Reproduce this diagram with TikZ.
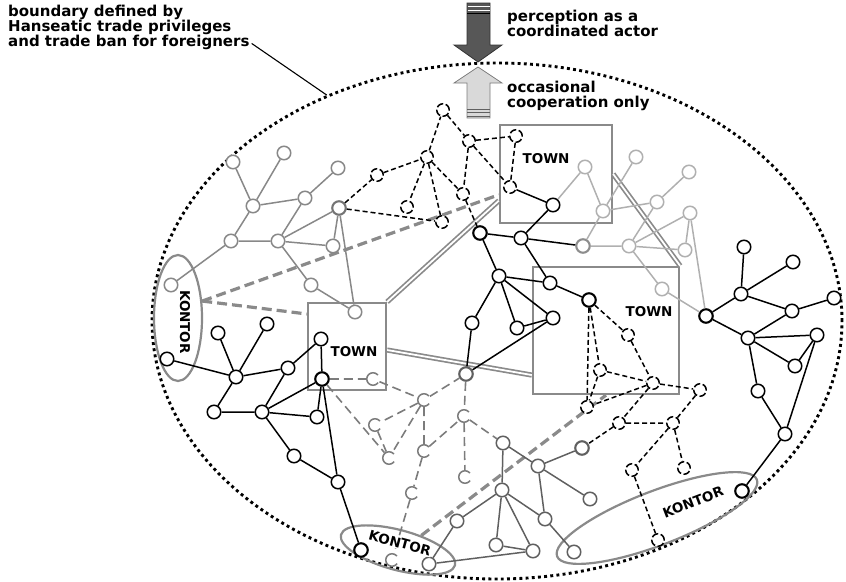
\documentclass[tikz,border=0pt]{standalone}
\usepackage{fontspec}
\newfontfamily\verd{DejaVu Sans}
\usetikzlibrary{positioning,shapes.geometric}
\definecolor{netgray}{HTML}{888888}
\definecolor{netlight}{HTML}{B0B0B0}
\definecolor{netdark}{HTML}{606060}
\definecolor{dashgray}{HTML}{7C7C7C}
\definecolor{boxgray}{HTML}{8A8A8A}
\definecolor{arrdark}{HTML}{575757}
\definecolor{arrlight}{HTML}{D9D9D9}
\tikzset{
  knot/.style={circle, draw=black, fill=white, line width=1.5pt, minimum size=13.5pt, inner sep=0pt},
  hub/.style={knot, line width=2.1pt},
  grayknot/.style={knot, draw=netgray},
  grayhub/.style={hub, draw=netgray!85!black},
  lightknot/.style={knot, draw=netlight},
  lighthub/.style={hub, draw=netlight!80!black},
  darkknot/.style={knot, draw=netdark},
  darkhub/.style={hub, draw=netdark},
  dashknot/.style={knot, minimum size=12.5pt, dash pattern=on 7pt off 2.6pt},
  cknot/.style={knot, draw=dashgray, minimum size=12.5pt, dash pattern=on 31pt off 8.3pt, dash phase=35.1pt},
  blk/.style={draw=black, line width=1.5pt},
  gry/.style={draw=netgray, line width=1.5pt},
  lgt/.style={draw=netlight, line width=1.5pt},
  drk/.style={draw=netdark, line width=1.5pt},
  bdash/.style={draw=black, line width=1.5pt, dash pattern=on 5pt off 3pt},
  gdash/.style={draw=dashgray, line width=1.6pt, dash pattern=on 9pt off 5pt},
  linkdash/.style={draw=boxgray, line width=3.2pt, dash pattern=on 10pt off 5pt},
  linkdouble/.style={draw=boxgray, line width=1.7pt, double=white, double distance=1.8pt},
  townbox/.style={rectangle, draw=boxgray, line width=2.3pt, inner sep=0pt},
  kontor/.style={ellipse, draw=boxgray, line width=2.2pt, inner sep=0pt},
  tag/.style={font=\verd\bfseries\fontsize{13.5}{14}\selectfont, inner sep=1pt},
  note/.style={font=\verd\bfseries\fontsize{15}{15.2}\selectfont, align=left, inner sep=0pt, anchor=north west},
}

\begin{document}
\begin{tikzpicture}[x=1pt, y=-1pt]
\useasboundingbox (0,0) rectangle (846,581);

\node[ellipse, draw, minimum width=690, minimum height=516, line width=2.9pt, dash pattern=on 2.9pt off 3.3pt, inner sep=0pt] (realm) at (497,321) {};

\node[note] (bound) at (8,5) {boundary defined by\\Hanseatic trade privileges\\and trade ban for foreigners};
\draw[line width=1.1pt] ([shift={(2pt,7pt)}]bound.south east) -- (realm.127.5);

\draw[fill=arrdark, draw=black!80, line width=0.8pt] (467,3) -- (490,3) -- (490,45) -- (502,45) -- (478,62) -- (454,45) -- (467,45) -- cycle;
\draw[white, line width=0.9pt] (467.5,6.5) -- (489.5,6.5) (467.5,10) -- (489.5,10);
\draw[black, line width=0.9pt] (467,13) -- (490,13);
\draw[fill=arrlight, draw=dashgray, line width=0.8pt] (478,67) -- (502,83) -- (490,83) -- (490,118) -- (467,118) -- (467,83) -- (454,83) -- cycle;
\draw[netdark, line width=0.9pt] (467,109) -- (490,109) (467,112.5) -- (490,112.5) (467,116) -- (490,116);
\node[note] (percep) at (507,10) {perception as a\\coordinated actor};
\node[note] (occas) at (507,81) {occasional\\cooperation only};

\node[townbox, minimum width=112, minimum height=98] (t1) at (556,174) {};
\node[townbox, minimum width=78, minimum height=87] (t2) at (347,346.5) {};
\node[townbox, minimum width=146, minimum height=127] (t3) at (606,330.5) {};
\node[tag] (t1lab) at (546,159) {TOWN};
\node[tag] (t2lab) at (354,352) {TOWN};
\node[tag] (t3lab) at (649,312) {TOWN};

\node[kontor, minimum width=48, minimum height=126] (kon1) at (178,318) {};
\node[kontor, minimum width=118, minimum height=40, rotate=-15] (kon2) at (398,550) {};
\node[kontor, minimum width=214, minimum height=54, rotate=21] (kon3) at (657,518) {};

\draw[linkdash] (kon1.35) -- (t1.200);
\draw[linkdash] (kon1.35) -- (t2.141);
\draw[linkdash] (kon2.47) -- (t3.south);
\draw[linkdouble] (t2.north east) -- (t1.205);
\draw[linkdouble] (t1.east) -- (t3.north east);
\draw[linkdouble] (t2.-5) -- (t3.211);

\node[grayknot] (g1) at (233,162) {};
\node[grayknot] (g2) at (284,153) {};
\node[grayknot] (g3) at (338,168) {};
\node[grayknot] (g4) at (253,206) {};
\node[grayknot] (g5) at (305,198) {};
\node[grayknot] (g6) at (231,241) {};
\node[grayknot] (g7) at (278,241) {};
\node[grayhub] (g8) at (339,208) {};
\node[grayknot] (g9) at (333,246) {};
\node[grayknot] (g10) at (171,285) {};
\node[grayknot] (g11) at (311,285) {};
\node[grayknot] (g12) at (355,312) {};

\node[dashknot] (d1) at (443,110) {};
\node[dashknot] (d2) at (427,157) {};
\node[dashknot] (d3) at (377,175) {};
\node[dashknot] (d4) at (407,207) {};
\node[dashknot] (d5) at (442,222) {};
\node[dashknot] (d6) at (463,194) {};
\node[dashknot] (d7) at (469,141) {};
\node[dashknot] (d8) at (516,136) {};
\node[dashknot] (d9) at (510,187) {};

\node[hub] (bc1) at (480,233) {};
\node[knot] (bc2) at (521,238) {};
\node[knot] (bt1) at (553,205) {};
\node[knot] (bc3) at (499,276) {};
\node[knot] (bc4) at (550,283) {};
\node[hub] (bc5) at (589,300) {};
\node[knot] (bc6) at (472,323) {};
\node[knot] (bc7) at (517,328) {};
\node[knot] (bc8) at (553,318) {};

\node[lightknot] (l1) at (585,167) {};
\node[lightknot] (l2) at (636,157) {};
\node[lightknot] (l3) at (689,172) {};
\node[lightknot] (l4) at (603,211) {};
\node[lightknot] (l5) at (657,202) {};
\node[lightknot] (l6) at (690,213) {};
\node[lighthub] (l7) at (583,246) {};
\node[lightknot] (l8) at (629,246) {};
\node[lightknot] (l9) at (685,250) {};
\node[lightknot] (l10) at (662,289) {};

\node[hub] (r1) at (706,316) {};
\node[knot] (r2) at (741,294) {};
\node[knot] (r3) at (744,247) {};
\node[knot] (r4) at (793,262) {};
\node[knot] (r5) at (792,311) {};
\node[knot] (r6) at (834,298) {};
\node[knot] (r7) at (748,338) {};
\node[knot] (r8) at (817,335) {};
\node[knot] (r9) at (795,366) {};
\node[knot] (r10) at (758,391) {};
\node[knot] (r11) at (785,434) {};
\node[hub] (r12) at (742,491) {};

\node[knot] (kl1) at (167,359) {};
\node[knot] (e1) at (218,333) {};
\node[knot] (e2) at (267,324) {};
\node[knot] (e3) at (236,377) {};
\node[knot] (e4) at (288,368) {};
\node[knot] (e5) at (321,339) {};
\node[hub] (e6) at (322,379) {};
\node[knot] (e7) at (214,412) {};
\node[knot] (e8) at (262,412) {};
\node[knot] (e9) at (317,417) {};
\node[knot] (e10) at (294,456) {};
\node[knot] (e11) at (338,482) {};
\node[hub] (e12) at (361,550) {};

\node[cknot] (gd1) at (373,379) {};
\node[cknot] (gd2) at (424,400) {};
\node[cknot] (gd3) at (375,425) {};
\node[cknot] (gd4) at (389,458) {};
\node[cknot] (gd5) at (424,451) {};
\node[cknot] (gd6) at (464,416) {};
\node[cknot] (gd7) at (465,477) {};
\node[cknot] (gd8) at (412,493) {};
\node[cknot] (gd9) at (392,560) {};

\node[darkhub] (m1) at (466,374) {};
\node[darkknot] (m2) at (503,443) {};
\node[darkknot] (m3) at (538,466) {};
\node[darkknot] (m4) at (502,490) {};
\node[darkknot] (m5) at (457,521) {};
\node[darkknot] (m6) at (545,519) {};
\node[darkknot] (m7) at (496,545) {};
\node[darkknot] (m8) at (533,551) {};
\node[darkknot] (m9) at (429,564) {};
\node[darkknot] (m10) at (590,499) {};
\node[darkknot] (m11) at (574,552) {};
\node[darkhub] (m12) at (582,448) {};

\node[dashknot] (h1) at (628,335) {};
\node[dashknot] (h2) at (600,370) {};
\node[dashknot] (h3) at (653,383) {};
\node[dashknot] (h4) at (587,407) {};
\node[dashknot] (h5) at (700,390) {};
\node[dashknot] (h6) at (619,423) {};
\node[dashknot] (h7) at (673,423) {};
\node[dashknot] (h9) at (632,470) {};
\node[dashknot] (h10) at (684,468) {};
\node[dashknot] (h11) at (658,540) {};

\draw[gry] (g1) -- (g4) (g2) -- (g4) (g4) -- (g5) (g4) -- (g6) (g3) -- (g5) (g5) -- (g7) (g6) -- (g7) (g6) -- (g10)
  (g7) -- (g8) (g7) -- (g9) (g8) -- (g9) (g7) -- (g11) (g11) -- (g12) (g8) -- (g12);
\draw[bdash] (g8) -- (d3) (d3) -- (d2) (d2) -- (d1) (d1) -- (d7) (d2) -- (d4) (d2) -- (d5) (d2) -- (d6) (g8) -- (d5)
  (d7) -- (d8) (d7) -- (d9) (d7) -- (d6) (d8) -- (d9) (d6) -- (bc1);
\draw[blk] (d9) -- (bt1) (bt1) -- (bc2) (bc1) -- (bc2) (bc2) -- (l7) (bc1) -- (bc3) (bc2) -- (bc4) (bc3) -- (bc4) (bc4) -- (bc5)
  (bc3) -- (bc6) (bc3) -- (bc7) (bc3) -- (bc8) (bc7) -- (bc8) (bc6) -- (m1) (bc8) -- (m1);
\draw[lgt] (bt1) -- (l1) (l1) -- (l4) (l2) -- (l4) (l4) -- (l5) (l5) -- (l3) (l4) -- (l7) (l7) -- (l8) (l8) -- (l5)
  (l8) -- (l6) (l6) -- (l9) (l8) -- (l9) (l8) -- (l10) (l6) -- (r1) (l10) -- (r1);
\draw[blk] (r1) -- (r2) (r2) -- (r3) (r2) -- (r4) (r2) -- (r5) (r5) -- (r6) (r1) -- (r7) (r5) -- (r7) (r7) -- (r8)
  (r7) -- (r9) (r8) -- (r9) (r7) -- (r10) (r10) -- (r11) (r8) -- (r11) (r11) -- (r12);
\draw[blk] (kl1) -- (e3) (e1) -- (e3) (e2) -- (e3) (e3) -- (e4) (e3) -- (e7) (e7) -- (e8) (e4) -- (e8) (e4) -- (e5)
  (e5) -- (e6) (e6) -- (e8) (e8) -- (e9) (e6) -- (e9) (e8) -- (e10) (e10) -- (e11) (e6) -- (e11) (e11) -- (e12);
\draw[gdash] (e6) -- (gd1) (gd1) -- (gd2) (e6) -- (gd4) (gd2) -- (m1) (gd2) -- (gd3) (gd3) -- (gd4) (gd2) -- (gd4)
  (gd2) -- (gd5) (gd5) -- (gd6) (m1) -- (gd6) (gd6) -- (gd7) (gd6) -- (m2) (gd5) -- (gd8) (gd8) -- (gd9);
\draw[drk] (m2) -- (m3) (m2) -- (m4) (m3) -- (m12) (m3) -- (m10) (m3) -- (m6) (m6) -- (m11) (m4) -- (m6) (m4) -- (m8)
  (m4) -- (m7) (m4) -- (m5) (m5) -- (m9) (m7) -- (m8) (m9) -- (m8);
\draw[bdash] (bc5) -- (h1) (bc5) -- (h2) (bc5) -- (h4) (h1) -- (h3) (h2) -- (h3) (h2) -- (h4) (h3) -- (h4) (h3) -- (h5)
  (h3) -- (h6) (h6) -- (h7) (h5) -- (h7) (h6) -- (m12) (h7) -- (h9) (h7) -- (h10) (h9) -- (h11);

\node[tag, rotate=-90] (kon1lab) at (185,322) {KONTOR};
\node[tag, rotate=-15, fill=white] (kon2lab) at (400,543) {KONTOR};
\node[tag, rotate=21] (kon3lab) at (693,502) {KONTOR};
\end{tikzpicture}
\end{document}
